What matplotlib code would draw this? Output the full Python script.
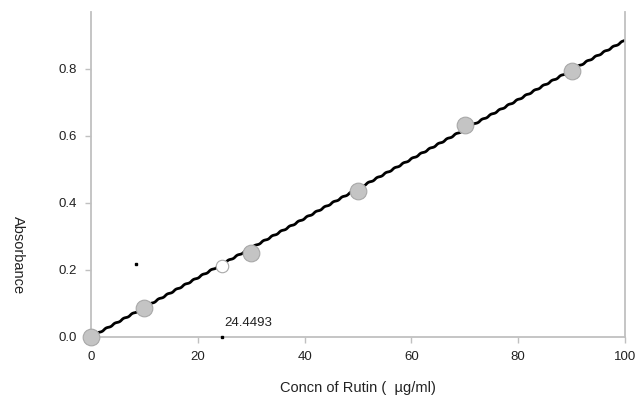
import matplotlib
matplotlib.use("Agg")
import matplotlib.pyplot as plt
import numpy as np

plt.rcParams['font.family'] = ['Liberation Sans', 'DejaVu Sans']

conc = [0, 10, 30, 50, 70, 90]
absorb = [0.0, 0.086, 0.25, 0.435, 0.632, 0.795]
fit_x = [0, 100]
fit_y = [0.0, 0.885]
sample_x = [24.4493]
sample_y = [0.212]
stray_x = [8.4]
stray_y = [0.218]
sample_label = "24.4493"

xticks = [0, 20, 40, 60, 80, 100]
yticks = [0.0, 0.2, 0.4, 0.6, 0.8]

fig = plt.figure(figsize=(6.38, 3.96), dpi=100)
ax = fig.add_axes([0.1426, 0.149, 0.837, 0.821])

line, = ax.plot(fit_x, fit_y, color='black', lw=2.0, zorder=2, solid_capstyle='round')
line.set_sketch_params(scale=0.5, length=10, randomness=1)
ax.plot(conc, absorb, 'o', ms=12, mfc='#c4c4c4', mec='#a8a8a8', mew=0.8, zorder=3, clip_on=False)
ax.plot(sample_x, sample_y, 'o', ms=9, mfc='white', mec='#a8a8a8', mew=0.8, zorder=3)
ax.plot(stray_x, stray_y, 's', ms=1.6, color='black', zorder=3)
ax.plot(sample_x, [0.0], 's', ms=1.6, color='black', zorder=3, clip_on=False)
ax.text(sample_x[0] + 0.5, 0.025, sample_label, fontsize=9.5, ha='left', va='bottom', color='#222222')

ax.set_xlim(0, 100)
ax.set_ylim(0, 0.97)
ax.set_xticks(xticks)
ax.set_xticklabels([str(t) for t in xticks])
ax.set_yticks(yticks)
ax.set_yticklabels([f"{t:.1f}" for t in yticks])

for s in ['left', 'bottom', 'right']:
    ax.spines[s].set_color('#c0c0c0')
    ax.spines[s].set_linewidth(1.3)
ax.spines['top'].set_visible(False)
ax.tick_params(axis='both', colors='#c0c0c0', labelcolor='#222222', labelsize=9.5, length=4, width=1)
ax.tick_params(axis='x', pad=6)
ax.tick_params(axis='y', pad=6)

ax.set_xlabel("Concn of Rutin (  \u00b5g/ml)", fontsize=10.5, color='#222222', labelpad=13)
fig.text(0.028, 0.357, "Absorbance", rotation=-90, fontsize=10.5, color='#222222', ha='center', va='center')

fig.savefig("out.png", dpi=100)
